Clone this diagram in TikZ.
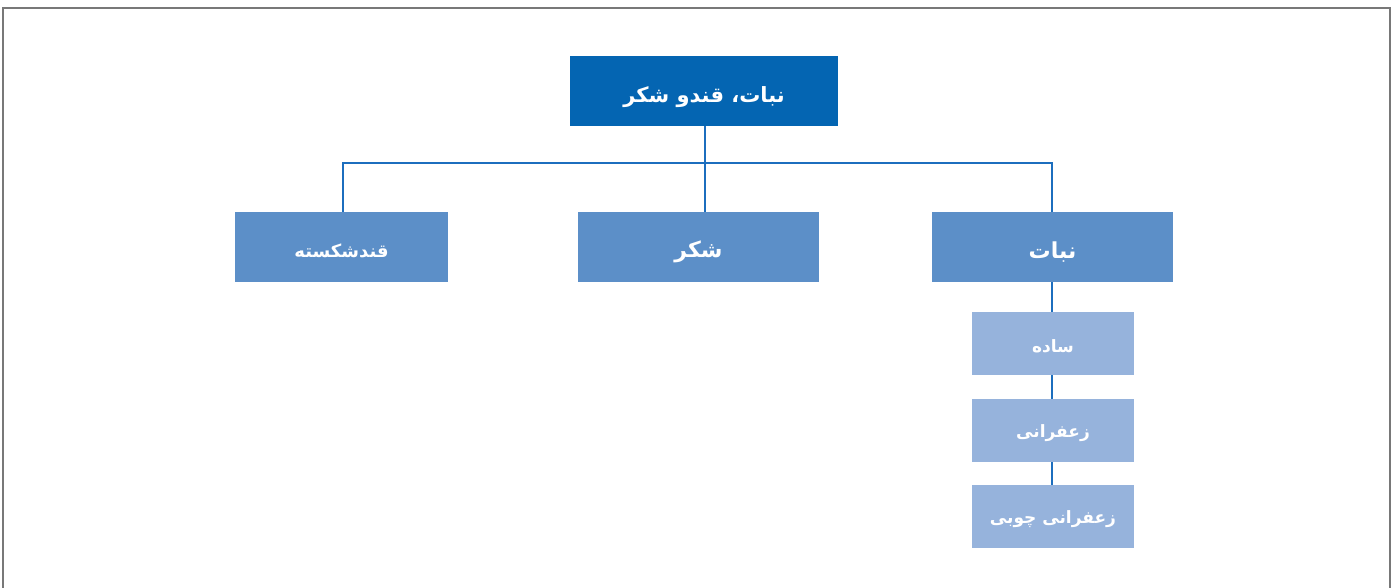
\documentclass[tikz,border=0pt]{standalone}
\usepackage{fontspec}
\newfontfamily\arabicfont[Script=Arabic,BoldFont={DejaVu Sans Bold}]{DejaVu Sans}
\TeXXeTstate=1
\definecolor{topblue}{RGB}{4,101,178}
\definecolor{midblue}{RGB}{92,143,200}
\definecolor{lightblue}{RGB}{150,179,220}
\definecolor{linkblue}{RGB}{28,110,190}
\definecolor{framegray}{RGB}{120,120,120}
\newcommand{\lowered}[2]{\raisebox{-#1}[\height][\depth]{#2}}
\tikzset{
  box/.style={inner sep=0pt, text=white},
  link/.style={draw=linkblue, line width=2.5pt},
}
\begin{document}
\begin{tikzpicture}[x=1pt,y=-1pt]
\useasboundingbox (0,0) rectangle (1398,588);
\begin{scope}
\clip (0,0) rectangle (1398,588);
\draw[framegray, line width=1.4pt] (3,620) -- (3,8) -- (1390,8) -- (1390,620);
\end{scope}
% boxes
\node[box, fill=topblue, minimum width=268pt, minimum height=70pt, font=\arabicfont\bfseries\fontsize{21}{25}\selectfont] (root) at (704,91) {\lowered{6pt}{\beginR نبات، قندو شکر\endR}};
\node[box, fill=midblue, minimum width=213pt, minimum height=70pt, font=\arabicfont\bfseries\fontsize{18}{22}\selectfont] (qand) at (341.5,247) {\lowered{4pt}{\beginR قندشکسته\endR}};
\node[box, fill=midblue, minimum width=241pt, minimum height=70pt, font=\arabicfont\bfseries\fontsize{22}{26}\selectfont] (shekar) at (698.5,247) {\lowered{5pt}{\beginR شکر\endR}};
\node[box, fill=midblue, minimum width=241pt, minimum height=70pt, font=\arabicfont\bfseries\fontsize{22}{26}\selectfont] (nabat) at (1052.5,247) {\lowered{5pt}{\beginR نبات\endR}};
\node[box, fill=lightblue, minimum width=162pt, minimum height=63pt, font=\arabicfont\bfseries\fontsize{17}{20}\selectfont] (sade) at (1053,343.5) {\lowered{3pt}{\beginR ساده\endR}};
\node[box, fill=lightblue, minimum width=162pt, minimum height=63pt, font=\arabicfont\bfseries\fontsize{17}{20}\selectfont] (zafar) at (1053,430.5) {\lowered{3pt}{\beginR زعفرانی\endR}};
\node[box, fill=lightblue, minimum width=162pt, minimum height=63pt, font=\arabicfont\bfseries\fontsize{17}{20}\selectfont] (chubi) at (1053,516.5) {\lowered{3pt}{\beginR زعفرانی چوبی\endR}};
% connectors
\coordinate (bus) at (705,163);
\draw[link] (root.south -| bus) -- (bus);
\draw[link] (qand.north -| 343,0) -- (343,163) -- (1052,163) -- (nabat.north -| 1052,0);
\draw[link] (bus) -- (shekar.north -| bus);
\draw[link] (nabat.south -| 1052,0) -- (sade.north -| 1052,0);
\draw[link] (sade.south -| 1052,0) -- (zafar.north -| 1052,0);
\draw[link] (zafar.south -| 1052,0) -- (chubi.north -| 1052,0);
\end{tikzpicture}
\end{document}
